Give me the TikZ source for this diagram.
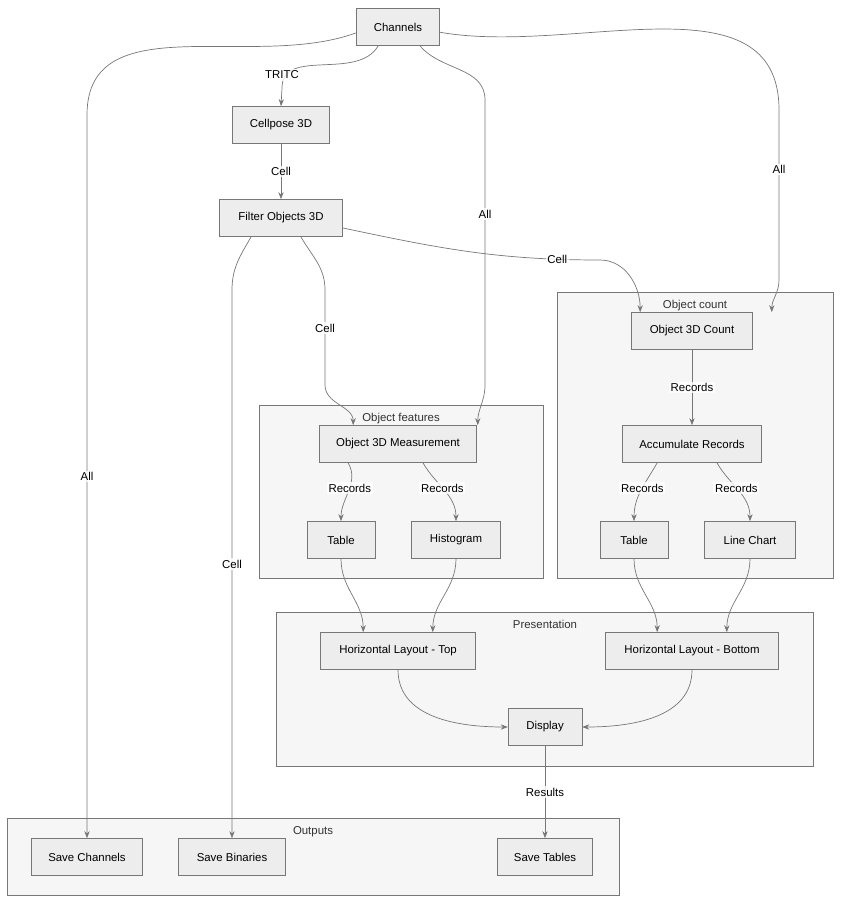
\documentclass[tikz,border=0pt]{standalone}
\usepackage{fontspec}
\setmainfont{Liberation Sans}
\usetikzlibrary{arrows.meta}
\definecolor{boxfill}{HTML}{EDEDED}
\definecolor{boxline}{HTML}{777777}
\definecolor{grpfill}{HTML}{F6F6F6}
\tikzset{
  box/.style={draw=boxline, fill=boxfill, minimum height=21pt, font=\fontsize{6.5}{8}\selectfont, inner sep=0pt}, % step boxes
  group/.style={draw=boxline, fill=grpfill}, % clusters
  link/.style={-{Stealth[length=4pt]}, draw=boxline, thin}, % connectors
  lbl/.style={fill=white, fill opacity=0.8, text opacity=1, font=\fontsize{6.5}{8}\selectfont, inner sep=1pt},
  gtitle/.style={font=\fontsize{6.5}{8}\selectfont, text=black!80, anchor=north},
}
\begin{document}
\begin{tikzpicture}[x=0.02cm, y=-0.02cm]
  \useasboundingbox (0,0) rectangle (840,902);
  % groups
  \draw[group] (259,405) rectangle (543,578);
  \node[gtitle] at (401,407) {Object features};
  \draw[group] (557,292) rectangle (833,578);
  \node[gtitle] at (695,294) {Object count};
  \draw[group] (276,612) rectangle (813,766);
  \node[gtitle] at (545,614) {Presentation};
  \draw[group] (7,818) rectangle (619,895);
  \node[gtitle] at (313,820) {Outputs};
  % nodes
  \node[box, minimum width=84*0.567pt] (ch) at (398,27) {Channels};
  \node[box, minimum width=98*0.567pt] (cp) at (281,125) {Cellpose 3D};
  \node[box, minimum width=124*0.567pt] (fo) at (281,218) {Filter Objects 3D};
  \node[box, minimum width=122*0.567pt] (oc) at (692,331) {Object 3D Count};
  \node[box, minimum width=158*0.567pt] (om) at (398,444) {Object 3D Measurement};
  \node[box, minimum width=140*0.567pt] (ar) at (692,444) {Accumulate Records};
  \node[box, minimum width=68*0.567pt] (ta) at (341,540) {Table};
  \node[box, minimum width=90*0.567pt] (hi) at (456,540) {Histogram};
  \node[box, minimum width=68*0.567pt] (tb) at (634,540) {Table};
  \node[box, minimum width=92*0.567pt] (lc) at (750,540) {Line Chart};
  \node[box, minimum width=156*0.567pt] (ht) at (398,651) {Horizontal Layout - Top};
  \node[box, minimum width=174*0.567pt] (hb) at (692,651) {Horizontal Layout - Bottom};
  \node[box, minimum width=74*0.567pt] (di) at (545,727) {Display};
  \node[box, minimum width=112*0.567pt] (sc) at (87,857) {Save Channels};
  \node[box, minimum width=108*0.567pt] (sb) at (232,857) {Save Binaries};
  \node[box, minimum width=96*0.567pt] (st) at (545,857) {Save Tables};
  % edges
  \draw[link] ([yshift=-3.4pt]ch.west) to[out=200, in=90] (87,115) -- node[lbl]{All} (sc.north);
  \draw[link] ([xshift=-11.3pt]ch.south) to[out=240, in=90] (282,88) -- (cp.north);
  \node[lbl] (tritc) at (282,75) {TRITC};
  \draw[link] ([xshift=12.5pt]ch.south) to[out=-50, in=90] (485,100) -- node[lbl, pos=0.4]{All} (485,385) to[out=270, in=90] ([xshift=45.4pt]om.north);
  \draw[link] ([yshift=-3pt]ch.east) to[out=-10, in=90] (779,110) -- node[lbl, pos=0.35]{All} (779,280) to[out=270, in=90] ([xshift=45.4pt]oc.north);
  \draw[link] (cp) -- node[lbl]{Cell} (fo);
  \draw[link] ([yshift=-5.7pt]fo.east) to[out=-12, in=180] node[lbl, pos=0.85]{Cell} (600,260) to[out=0, in=90] ([xshift=-29.5pt]oc.north);
  \draw[link] ([xshift=11.3pt]fo.south) to[out=-60, in=90] (325,290) -- node[lbl, pos=0.4]{Cell} (325,385) to[out=270, in=90] ([xshift=-25.5pt]om.north);
  \draw[link] ([xshift=-17pt]fo.south) to[out=240, in=90] (232,290) -- node[lbl]{Cell} (sb.north);
  \draw[link] (oc) -- node[lbl]{Records} (ar);
  \draw[link] ([xshift=-28.4pt]om.south) to[out=-60, in=90] node[lbl, pos=0.45]{Records} (ta.north);
  \draw[link] ([xshift=14.2pt]om.south) to[out=-60, in=90] node[lbl, pos=0.45]{Records} (hi.north);
  \draw[link] ([xshift=-19.8pt]ar.south) to[out=-120, in=90] node[lbl, pos=0.45]{Records} (tb.north);
  \draw[link] ([xshift=14.2pt]ar.south) to[out=-60, in=90] node[lbl, pos=0.45]{Records} (lc.north);
  \draw[link] (ta.south) to[out=270, in=90] ([xshift=-19.8pt]ht.north);
  \draw[link] (hi.south) to[out=270, in=90] ([xshift=19.8pt]ht.north);
  \draw[link] (tb.south) to[out=270, in=90] ([xshift=-19.8pt]hb.north);
  \draw[link] (lc.south) to[out=270, in=90] ([xshift=19.8pt]hb.north);
  \draw[link] (ht.south) to[out=270, in=180] (di.west);
  \draw[link] (hb.south) to[out=270, in=0] (di.east);
  \draw[link] (di) -- node[lbl]{Results} (st);
\end{tikzpicture}
\end{document}
